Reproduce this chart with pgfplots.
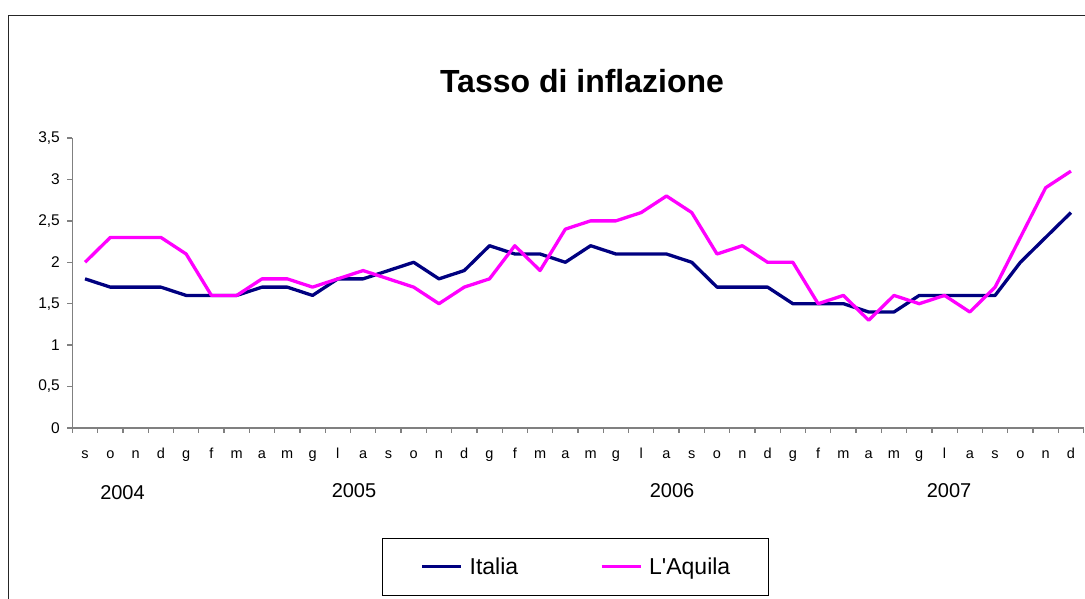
\documentclass[border=0pt]{standalone}
\usepackage{fontspec}
\setmainfont{Liberation Sans}
\usepackage{pgfplots}
\pgfplotsset{compat=1.18}
\usepackage{pgfplotstable}
\definecolor{italia}{HTML}{000080}
\definecolor{aquila}{HTML}{FF00FF}
\definecolor{axisgray}{HTML}{808080}

\pgfplotstableread{
x italia aquila
0 1.8 2.0
1 1.7 2.3
2 1.7 2.3
3 1.7 2.3
4 1.6 2.1
5 1.6 1.6
6 1.6 1.6
7 1.7 1.8
8 1.7 1.8
9 1.6 1.7
10 1.8 1.8
11 1.8 1.9
12 1.9 1.8
13 2.0 1.7
14 1.8 1.5
15 1.9 1.7
16 2.2 1.8
17 2.1 2.2
18 2.1 1.9
19 2.0 2.4
20 2.2 2.5
21 2.1 2.5
22 2.1 2.6
23 2.1 2.8
24 2.0 2.6
25 1.7 2.1
26 1.7 2.2
27 1.7 2.0
28 1.5 2.0
29 1.5 1.5
30 1.5 1.6
31 1.4 1.3
32 1.4 1.6
33 1.6 1.5
34 1.6 1.6
35 1.6 1.4
36 1.6 1.7
37 2.0 2.3
38 2.3 2.9
39 2.6 3.1
}\datatable

\begin{document}
\begin{tikzpicture}[x=1pt,y=1pt]
\useasboundingbox (0,0) rectangle (1085,599);
\draw[line width=1.3pt, black!85] (8.5,0) -- (8.5,583.5) -- (1085,583.5);
\begin{axis}[
  at={(72.4pt,171pt)}, anchor=south west,
  scale only axis, width=1011.2pt, height=290pt,
  xmin=-0.5, xmax=39.5, ymin=0, ymax=3.5,
  axis lines=left,
  axis line style={-, axisgray, line width=1.3pt},
  tick align=outside,
  xtick={0,...,39},
  xticklabels={s,o,n,d,g,f,m,a,m,g,l,a,s,o,n,d,g,f,m,a,m,g,l,a,s,o,n,d,g,f,m,a,m,g,l,a,s,o,n,d},
  major x tick style={draw=none},
  minor xtick={-0.5,0.5,...,39.5},
  minor tick length=5pt,
  major tick length=5pt,
  ytick={0,0.5,1,1.5,2,2.5,3,3.5},
  tick style={axisgray, line width=1.3pt},
  /pgf/number format/assume math mode=true,
  /pgf/number format/use comma,
  /pgf/number format/fixed,
  xticklabel style={font=\fontsize{14.5}{17}\selectfont, anchor=base, inner sep=0pt, yshift=-25.5pt},
  yticklabel style={font=\fontsize{15.5}{18}\selectfont, anchor=east, inner sep=0pt, xshift=-7.4pt},
  legend columns=2,
  legend style={at={(0.4975,-0.4793)}, anchor=center, draw=black, line width=1pt,
    font=\fontsize{23}{27}\selectfont, inner xsep=38pt, inner ysep=19pt,
    nodes={inner sep=0pt},
    /tikz/every odd column/.append style={column sep=7pt},
    /tikz/every even column/.append style={column sep=82pt}},
  legend image code/.code={\draw[#1, line width=3pt] (0pt,0pt) -- (39pt,0pt);},
]
\addplot[italia, line width=3.3pt, line join=round] table[x=x,y=italia]{\datatable};
\addlegendentry{Italia}
\addplot[aquila, line width=3.3pt, line join=round] table[x=x,y=aquila]{\datatable};
\addlegendentry{L\textquotesingle Aquila}
\end{axis}
\node[font=\bfseries\fontsize{32}{38}\selectfont, anchor=base] at (582,506) {Tasso di inflazione};
\node[font=\fontsize{20}{24}\selectfont, anchor=base] at (122.5,99) {2004};
\node[font=\fontsize{20}{24}\selectfont, anchor=base] at (354,101) {2005};
\node[font=\fontsize{20}{24}\selectfont, anchor=base] at (672,101) {2006};
\node[font=\fontsize{20}{24}\selectfont, anchor=base] at (949,101) {2007};
\end{tikzpicture}
\end{document}
